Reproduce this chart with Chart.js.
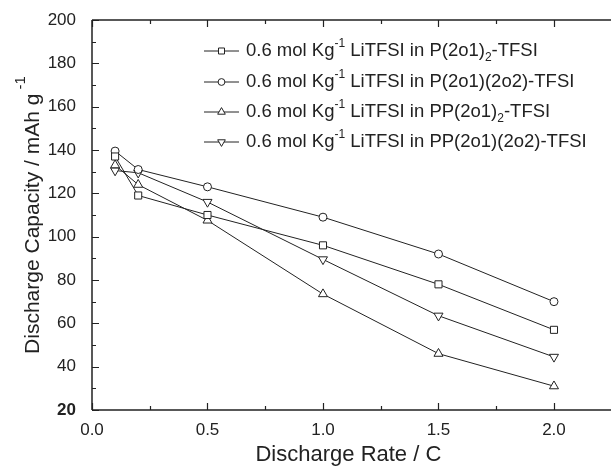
<!DOCTYPE html>
<html lang="en">
<head>
<meta charset="UTF-8">
<title>Discharge capacity vs rate</title>
<script src="https://cdn.jsdelivr.net/npm/chart.js"></script>
<style>
  html, body { margin: 0; padding: 0; background: #fff; }
  #wrap { width: 611px; height: 468px; }
</style>
</head>
<body>
<div id="wrap"><canvas id="rateChart"></canvas></div>
<script>
// data
const rates = [0.1, 0.2, 0.5, 1.0, 1.5, 2.0];
const capP2o1_2 = [137, 119, 110, 96, 78, 57];
const capP2o1_2o2 = [139.5, 131, 123, 109, 92, 70];
const capPP2o1_2 = [133, 124, 107.5, 73.5, 46, 31];
const capPP2o1_2o2 = [130.5, 129.5, 116, 89.5, 63.5, 44.5];

const xMajorTicks = [0, 0.5, 1.0, 1.5, 2.0];
const xMinorTicks = [0.25, 0.75, 1.25, 1.75];
const yMajorTicks = [20, 40, 60, 80, 100, 120, 140, 160, 180, 200];
const yMinorTicks = [30, 50, 70, 90, 110, 130, 150, 170, 190];

// legend text pieces: [text, kind]
const legendLabels = [
  [['0.6 mol Kg', ''], ['-1', 'sup'], [' LiTFSI in P(2o1)', ''], ['2', 'sub'], ['-TFSI', '']],
  [['0.6 mol Kg', ''], ['-1', 'sup'], [' LiTFSI in P(2o1)(2o2)-TFSI', '']],
  [['0.6 mol Kg', ''], ['-1', 'sup'], [' LiTFSI in PP(2o1)', ''], ['2', 'sub'], ['-TFSI', '']],
  [['0.6 mol Kg', ''], ['-1', 'sup'], [' LiTFSI in PP(2o1)(2o2)-TFSI', '']]
];

const FONT = 'Arial, "Liberation Sans", sans-serif';
const INK = '#222';

function series(values, style, rot, r) {
  return {
    data: rates.map((x, i) => ({ x: x, y: values[i] })),
    borderColor: INK,
    borderWidth: 1,
    pointStyle: style,
    rotation: rot,
    pointRadius: r,
    pointHoverRadius: r,
    pointBackgroundColor: '#fff',
    pointBorderColor: INK,
    pointBorderWidth: 1,
    tension: 0,
    clip: false
  };
}

const datasets = [
  series(capP2o1_2, 'rect', 0, 5),
  series(capP2o1_2o2, 'circle', 0, 4),
  series(capPP2o1_2, 'triangle', 0, 5.2),
  series(capPP2o1_2o2, 'triangle', 180, 5.2)
];

// axes frame, inward ticks, legend and y title
const framePlugin = {
  id: 'frame',
  afterDraw(chart) {
    const ctx = chart.ctx;
    const a = chart.chartArea;
    const xs = chart.scales.x, ys = chart.scales.y;
    ctx.save();
    ctx.strokeStyle = INK;
    ctx.lineWidth = 1.5;
    ctx.beginPath();
    ctx.moveTo(a.left, a.top); ctx.lineTo(a.left, a.bottom);
    ctx.moveTo(a.left, a.bottom); ctx.lineTo(chart.width, a.bottom);
    ctx.moveTo(a.left, a.top); ctx.lineTo(chart.width, a.top);
    ctx.stroke();

    ctx.lineWidth = 1.2;
    ctx.beginPath();
    const xt = (vals, len) => vals.forEach(v => {
      const px = Math.round(xs.getPixelForValue(v)) + 0.5;
      ctx.moveTo(px, a.bottom); ctx.lineTo(px, a.bottom - len);
      ctx.moveTo(px, a.top); ctx.lineTo(px, a.top + len);
    });
    const yt = (vals, len) => vals.forEach(v => {
      const py = Math.round(ys.getPixelForValue(v)) + 0.5;
      ctx.moveTo(a.left, py); ctx.lineTo(a.left + len, py);
    });
    xt(xMajorTicks, 7); xt(xMinorTicks, 4);
    yt(yMajorTicks, 7); yt(yMinorTicks, 4);
    ctx.stroke();

    // legend
    const lx = 204, tx = 246, rowY = [51, 82, 112, 142];
    ctx.textBaseline = 'middle';
    legendLabels.forEach((parts, i) => {
      const y = rowY[i];
      const ds = chart.data.datasets[i];
      ctx.lineWidth = 1;
      ctx.strokeStyle = INK;
      ctx.beginPath();
      ctx.moveTo(lx, y); ctx.lineTo(lx + 35, y);
      ctx.stroke();
      ctx.fillStyle = '#fff';
      Chart.helpers.drawPoint(ctx, {
        pointStyle: ds.pointStyle, rotation: ds.rotation,
        radius: ds.pointRadius * 0.85, borderWidth: 1
      }, lx + 17.5, y);
      ctx.fillStyle = INK;
      let x = tx;
      parts.forEach(([t, kind]) => {
        let dy = 0;
        if (kind === 'sup') { ctx.font = '12px ' + FONT; dy = -7; }
        else if (kind === 'sub') { ctx.font = '12px ' + FONT; dy = 7; }
        else ctx.font = '18.5px ' + FONT;
        ctx.fillText(t, x, y + dy);
        x += ctx.measureText(t).width;
      });
    });

    // y axis title with superscript
    ctx.save();
    ctx.translate(33, 215);
    ctx.rotate(-Math.PI / 2);
    ctx.font = '21px ' + FONT;
    const main = 'Discharge Capacity / mAh g';
    const w1 = ctx.measureText(main).width;
    ctx.font = '15px ' + FONT;
    const w2 = ctx.measureText(' -1').width;
    const x0 = -(w1 + w2) / 2;
    ctx.fillStyle = INK;
    ctx.font = '21px ' + FONT;
    ctx.fillText(main, x0, 0);
    ctx.font = '15px ' + FONT;
    ctx.fillText(' -1', x0 + w1, -12);
    ctx.restore();
    ctx.restore();
  }
};

new Chart(document.getElementById('rateChart').getContext('2d'), {
  type: 'line',
  data: { datasets: datasets },
  options: {
    responsive: true,
    maintainAspectRatio: false,
    animation: false,
    layout: { padding: { top: 20, left: 0, right: 0, bottom: 0 } },
    plugins: { legend: { display: false }, tooltip: { enabled: false } },
    scales: {
      x: {
        type: 'linear',
        min: 0,
        max: 2.22,
        grid: { display: false },
        border: { display: false },
        afterBuildTicks: s => { s.ticks = xMajorTicks.map(v => ({ value: v })); },
        afterFit: s => { s.height = 58; },
        ticks: {
          color: INK,
          padding: 2,
          font: { size: 17, family: FONT },
          callback: v => v.toFixed(1)
        },
        title: {
          display: true,
          text: 'Discharge Rate / C',
          color: INK,
          font: { size: 22, family: FONT },
          padding: { top: 0, bottom: 0 }
        }
      },
      y: {
        min: 20,
        max: 200,
        grid: { display: false },
        border: { display: false },
        afterBuildTicks: s => { s.ticks = yMajorTicks.map(v => ({ value: v })); },
        afterFit: s => { s.width = 92; },
        ticks: {
          color: INK,
          padding: 8,
          font: ctx => ({ size: 17, family: FONT, weight: ctx.tick && ctx.tick.value === 20 ? 'bold' : 'normal' }),
          callback: v => String(v)
        }
      }
    }
  },
  plugins: [framePlugin]
});
</script>
</body>
</html>
